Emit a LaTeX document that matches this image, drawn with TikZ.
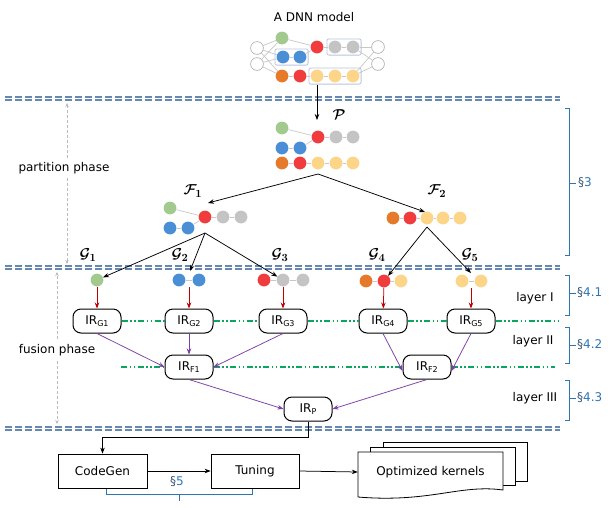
\documentclass[tikz,border=0pt]{standalone}
\usepackage{fontspec}
\setmainfont{DejaVu Sans}
\usetikzlibrary{arrows.meta,fit}
\definecolor{cgreen}{HTML}{A2C98E}
\definecolor{cblue}{HTML}{4A8ED6}
\definecolor{cred}{HTML}{F03C3C}
\definecolor{cgray}{HTML}{C4C4C4}
\definecolor{cyel}{HTML}{FCD589}
\definecolor{corange}{HTML}{E57A2B}
\definecolor{edgegray}{HTML}{C8C8C8}
\definecolor{boxblue}{HTML}{B8C4DE}
\definecolor{dblue}{HTML}{6688B0}
\definecolor{secblue}{HTML}{2E75B6}
\definecolor{secdark}{HTML}{3A5577}
\definecolor{darrow}{HTML}{C00000}
\definecolor{parrow}{HTML}{7B3FA8}
\definecolor{layergreen}{RGB}{10,165,95}
\definecolor{phgray}{HTML}{BBBBBB}
\newcommand{\irl}[1]{IR\raisebox{-2.5pt}{\fontsize{8}{8}\selectfont #1}}
\newcommand{\mysec}[1]{{\color{secdark}\S}{\color{secblue}#1}}
\begin{document}
\begin{tikzpicture}[x=1pt,y=-1pt,
  every node/.style={font=\fontsize{12}{14}\selectfont},
  cal/.style={font=\fontsize{15}{16}\selectfont\boldmath},
  nd/.style={circle,minimum size=12.8pt,inner sep=0pt},
  inn/.style={nd,draw=gray!70,fill=white,line width=0.6pt},
  gn/.style={nd,fill=cgreen}, bn/.style={nd,fill=cblue}, rn/.style={nd,fill=cred},
  yn/.style={nd,fill=cyel}, orn/.style={nd,fill=corange}, gyn/.style={nd,fill=cgray},
  ed/.style={draw=edgegray,line width=0.7pt},
  grp/.style={draw=boxblue,line width=0.8pt,rounded corners=2pt,inner sep=1.5pt},
  arr/.style={-{Stealth[length=6pt,width=4.5pt]},line width=0.75pt},
  ir/.style={draw,line width=1pt,rounded corners=8pt,minimum width=48pt,minimum height=24pt,fill=white,inner sep=0pt},
  sepl/.style={draw=dblue,line width=1.2pt,dash pattern=on 7pt off 3pt},
  layerline/.style={layergreen,line width=1.1pt,dash pattern=on 6pt off 2.5pt on 1.5pt off 2.5pt on 1.5pt off 2.5pt},
  brk/.style={draw=secblue,line width=0.9pt},
  bx/.style={draw,line width=0.8pt,minimum width=89pt,minimum height=34pt,fill=white},
  phs/.style={draw=phgray,line width=0.8pt,dash pattern=on 3pt off 2pt,-{Stealth[length=4pt,width=3.5pt]}}
]
\useasboundingbox (0,0) rectangle (611,507);
\fill[white] (0,0) rectangle (611,507);

% ---------- DNN model ----------
\node (title) at (314,17) {A DNN model};
\node[inn] (i1) at (257,48) {};
\node[inn] (i2) at (257,64) {};
\node[gn] (dg) at (282,38) {};
\node[bn] (db1) at (283,57) {};
\node[bn] (db2) at (300,57) {};
\node[orn] (do) at (282,76) {};
\node[rn] (dr2) at (300,76) {};
\node[rn] (dr) at (317,47) {};
\node[gyn] (dgy1) at (335,47) {};
\node[gyn] (dgy2) at (353,47) {};
\node[yn] (dy1) at (317,76) {};
\node[yn] (dy2) at (335,76) {};
\node[yn] (dy3) at (353,76) {};
\node[inn] (o1) at (378,47) {};
\node[inn] (o2) at (378,64) {};
\foreach \a in {i1,i2}{\foreach \b in {dg,db1,do}{\draw[ed] (\a)--(\b);}}
\draw[ed] (dg)--(dr); \draw[ed] (db1)--(db2); \draw[ed] (db2)--(dr);
\draw[ed] (do)--(dr2); \draw[ed] (dr2)--(dy1); \draw[ed] (dy1)--(dy2); \draw[ed] (dy2)--(dy3);
\draw[ed] (dr)--(dgy1); \draw[ed] (dgy1)--(dgy2);
\foreach \a in {dgy2,dy3}{\foreach \b in {o1,o2}{\draw[ed] (\a)--(\b);}}
\node[grp,fit=(db1)(db2)] (bbox) {};
\node[grp,fit=(dgy1)(dgy2)] (gbox) {};
\node[grp,fit=(dy1)(dy2)(dy3)] (ybox) {};

% ---------- separators ----------
\draw[sepl] (5,97)--(560,97);
\draw[sepl] (5,100)--(560,100);
\draw[sepl] (5,266)--(560,266);
\draw[sepl] (5,269)--(560,269);
\draw[sepl] (5,427)--(560,427);
\draw[sepl] (5,430)--(560,430);

% ---------- P ----------
\coordinate (ptip) at (317,120);
\draw[arr] (dy1 |- ybox.south) -- (ptip);
\node[cal] (lp) at (339,115) {$\mathcal{P}$};
\node[gn] (pg) at (282,128) {};
\node[bn] (pb1) at (282,148) {};
\node[bn] (pb2) at (300,148) {};
\node[rn] (pr) at (318,137) {};
\node[gyn] (pgy1) at (336,137) {};
\node[gyn] (pgy2) at (353,137) {};
\node[orn] (po) at (282,163) {};
\node[rn] (pr2) at (300,163) {};
\node[yn] (py1) at (318,163) {};
\node[yn] (py2) at (336,163) {};
\node[yn] (py3) at (353,163) {};
\draw[ed] (pg)--(pr); \draw[ed] (pb1)--(pb2); \draw[ed] (pb2)--(pr);
\draw[ed] (pr)--(pgy1); \draw[ed] (pgy1)--(pgy2);
\draw[ed] (po)--(pr2); \draw[ed] (pr2)--(py1); \draw[ed] (py1)--(py2); \draw[ed] (py2)--(py3);

\coordinate (papex) at (318,174);
\coordinate (f1tip) at (208,203);
\coordinate (f2tip) at (425,212);
\draw[arr] (papex)--(f1tip);
\draw[arr] (papex)--(f2tip);

% ---------- F1 ----------
\node[cal] (lf1) at (193,191) {$\mathcal{F}_1$};
\node[gn] (fg) at (170,208) {};
\node[bn] (fb1) at (170,228) {};
\node[bn] (fb2) at (188,228) {};
\node[rn] (fr) at (205,217) {};
\node[gyn] (fgy1) at (223,217) {};
\node[gyn] (fgy2) at (241,217) {};
\draw[ed] (fg)--(fr); \draw[ed] (fb1)--(fb2); \draw[ed] (fb2)--(fr);
\draw[ed] (fr)--(fgy1); \draw[ed] (fgy1)--(fgy2);

% ---------- F2 ----------
\node[cal] (lf2) at (437,191) {$\mathcal{F}_2$};
\node[orn] (fo) at (393,218) {};
\node[rn] (fr2) at (410,218) {};
\node[yn] (fy1) at (427,218) {};
\node[yn] (fy2) at (443,218) {};
\node[yn] (fy3) at (460,218) {};
\draw[ed] (fo)--(fr2); \draw[ed] (fr2)--(fy1); \draw[ed] (fy1)--(fy2); \draw[ed] (fy2)--(fy3);

% ---------- G ----------
\node[cal] (lg1) at (88,255) {$\mathcal{G}_1$};
\node[cal] (lg2) at (180,255) {$\mathcal{G}_2$};
\node[cal] (lg3) at (280,255) {$\mathcal{G}_3$};
\node[cal] (lg4) at (377,255) {$\mathcal{G}_4$};
\node[cal] (lg5) at (470,255) {$\mathcal{G}_5$};
\node[gn] (g1) at (97,280) {};
\node[bn] (g2a) at (179,280) {};
\node[bn] (g2b) at (199,280) {};
\node[rn] (g3r) at (264,280) {};
\node[gyn] (g3a) at (283,280) {};
\node[gyn] (g3b) at (303,280) {};
\node[orn] (g4o) at (366,281) {};
\node[rn] (g4r) at (384,281) {};
\node[yn] (g4y) at (401,281) {};
\node[yn] (g5a) at (462,281) {};
\node[yn] (g5b) at (481,281) {};
\draw[ed] (g2a)--(g2b); \draw[ed] (g3r)--(g3a); \draw[ed] (g3a)--(g3b);
\draw[ed] (g4o)--(g4r); \draw[ed] (g4r)--(g4y); \draw[ed] (g5a)--(g5b);

\coordinate (f1apex) at (205,233);
\coordinate (f2apex) at (427,227);
\coordinate (g2tip) at (190,271);
\coordinate (g5tip) at (471,273);
\draw[arr] (f1apex)--(g1);
\draw[arr] (f1apex)--(g2tip);
\draw[arr] (f1apex)--(g3a);
\draw[arr] (f2apex)--(g4r);
\draw[arr] (f2apex)--(g5tip);

% ---------- IR nodes ----------
\node[ir] (ir1) at (97,321) {\irl{G1}};
\node[ir] (ir2) at (189,321) {\irl{G2}};
\node[ir] (ir3) at (283,321) {\irl{G3}};
\node[ir] (ir4) at (383,321) {\irl{G4}};
\node[ir] (ir5) at (471,321) {\irl{G5}};
\node[ir] (irf1) at (189,367) {\irl{F1}};
\node[ir] (irf2) at (427,367) {\irl{F2}};
\node[ir] (irp) at (308,409) {\irl{P}};

\coordinate (g2bot) at (189,287);
\coordinate (g5bot) at (471,288);
\draw[arr,darrow] (g1)--(ir1);
\draw[arr,darrow] (g2bot)--(ir2);
\draw[arr,darrow] (g3a)--(ir3);
\draw[arr,darrow] (g4r)--(ir4);
\draw[arr,darrow] (g5bot)--(ir5);

\coordinate (lay1end) at (558,321);
\coordinate (lay2start) at (121,367);
\coordinate (lay2end) at (555,367);
\draw[layerline] (ir1.east)--(ir2.west);
\draw[layerline] (ir2.east)--(ir3.west);
\draw[layerline] (ir3.east)--(ir4.west);
\draw[layerline] (ir4.east)--(ir5.west);
\draw[layerline] (ir5.east)--(lay1end);
\draw[layerline] (lay2start)--(irf1.west);
\draw[layerline] (irf1.east)--(irf2.west);
\draw[layerline] (irf2.east)--(lay2end);

\draw[arr,parrow] (ir1.south)--(irf1.west);
\draw[arr,parrow] (ir2.south)--(irf1.north);
\draw[arr,parrow] (ir3.south)--(irf1.east);
\draw[arr,parrow] (ir4.south)--([yshift=-4pt]irf2.west);
\draw[arr,parrow] (ir5.south)--([yshift=-4pt]irf2.east);
\draw[arr,parrow] (irf1.south)--(irp.west);
\draw[arr,parrow] (irf2.south)--(irp.east);

% ---------- layer labels and brackets ----------
\node (l1) at (535,298) {layer I};
\node (l2) at (533,341) {layer II};
\node (l3) at (535,398) {layer III};

\draw[brk] (565,108)--(569,108)--(569,255)--(565,255);
\draw[brk] (569,183)--(576,183);
\node[anchor=west,inner sep=0pt] (s3) at (578,183) {\mysec{3}};
\draw[brk] (565,275)--(569,275)--(569,315)--(565,315);
\draw[brk] (569,293)--(576,293);
\node[anchor=west,inner sep=0pt] (s41) at (577,293) {\mysec{4.1}};
\draw[brk] (565,327)--(569,327)--(569,363)--(565,363);
\draw[brk] (569,345)--(576,345);
\node[anchor=west,inner sep=0pt] (s42) at (577,345) {\mysec{4.2}};
\draw[brk] (565,380)--(569,380)--(569,420)--(565,420);
\draw[brk] (569,398)--(576,398);
\node[anchor=west,inner sep=0pt] (s43) at (577,398) {\mysec{4.3}};

% ---------- phase labels ----------
\node (pph) at (64,168) {partition phase};
\node (fph) at (57,350) {fusion phase};
\coordinate (pa1) at (67,103);
\coordinate (pa2) at (67,158);
\coordinate (pa3) at (67,178);
\coordinate (pa4) at (67,264);
\draw[phs] (pa2)--(pa1);
\draw[phs] (pa3)--(pa4);
\coordinate (fa1) at (57,272);
\coordinate (fa2) at (57,339);
\coordinate (fa3) at (57,361);
\coordinate (fa4) at (57,424);
\draw[phs] (fa2)--(fa1);
\draw[phs] (fa3)--(fa4);

% ---------- code generation ----------
\node[bx] (cg) at (102.5,471) {CodeGen};
\node[bx,minimum width=88pt] (tn) at (255,471) {Tuning};
\coordinate (bend) at (308,437);
\draw[arr] (irp.south)--(bend)-|(cg.north);
\draw[arr] (cg.east)--(tn.west);

\draw[line width=0.8pt,fill=white] (383,442) rectangle (527,481);
\draw[line width=0.8pt,fill=white] (370,447) rectangle (515,485);
\draw[line width=0.8pt,fill=white] (358,452) -- (503,452) -- (503,490)
   .. controls (460,484) and (430,503) .. (358,497) -- cycle;
\node[minimum width=145pt,minimum height=40pt,inner sep=0pt] (okn) at (430.5,472) {Optimized kernels};
\draw[arr] (tn.east)--(okn.west);

\draw[brk] (106,489)--(106,494)--(252,494)--(252,489);
\draw[brk] (179,494)--(179,501);
\node (s5) at (177,482) {\mysec{5}};
\end{tikzpicture}
\end{document}
